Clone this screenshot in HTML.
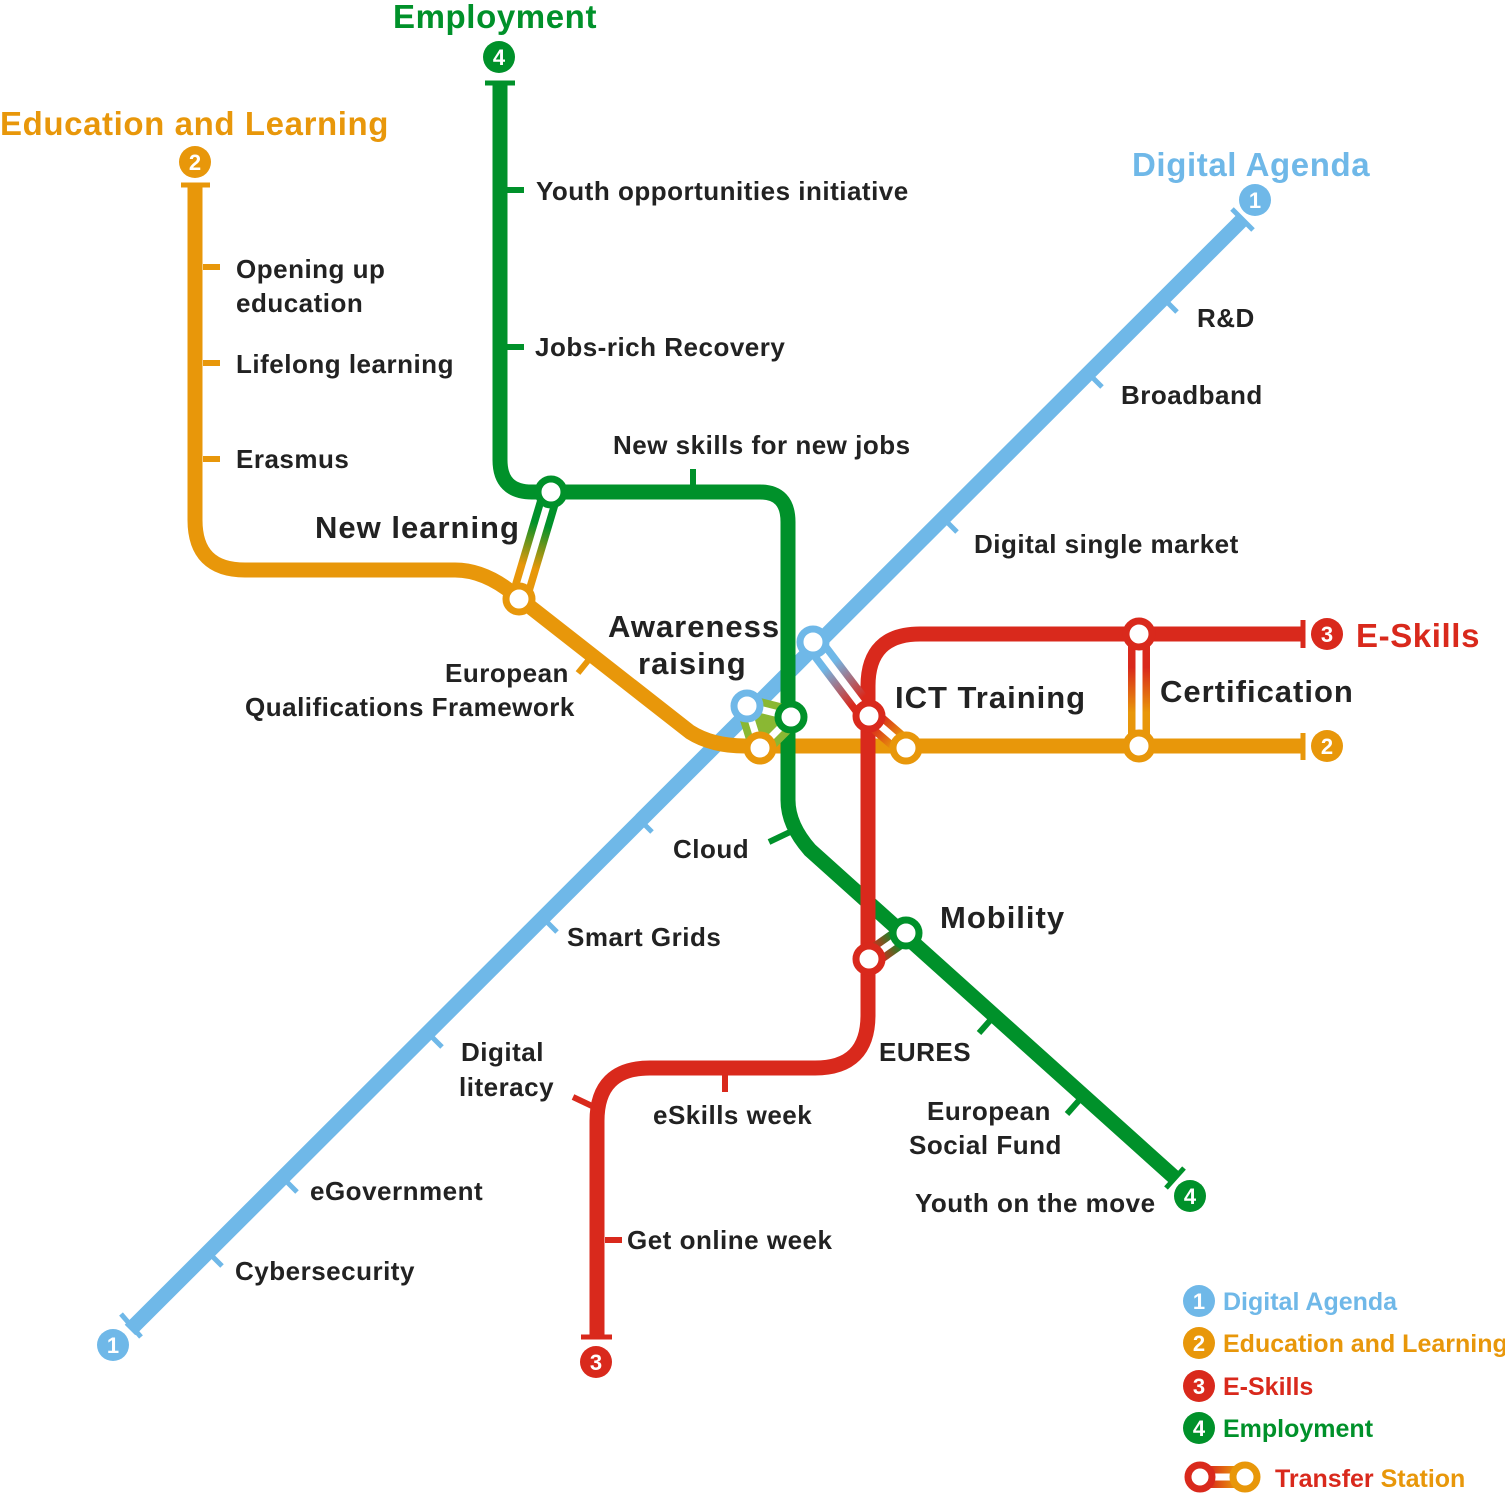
<!DOCTYPE html>
<html><head><meta charset="utf-8"><style>
html,body{margin:0;padding:0;background:#fff}
svg{display:block}
text{font-family:"Liberation Sans",sans-serif;font-weight:bold}
</style></head><body>
<svg width="1505" height="1496" viewBox="0 0 1505 1496" xmlns="http://www.w3.org/2000/svg">
<defs>
<linearGradient id="gGO" gradientUnits="userSpaceOnUse" x1="551" y1="492" x2="519" y2="599"><stop offset="0.3" stop-color="#00912a"/><stop offset="0.7" stop-color="#e8970a"/></linearGradient>
<linearGradient id="gBR" gradientUnits="userSpaceOnUse" x1="813" y1="642" x2="869" y2="716"><stop offset="0.3" stop-color="#6fb8e8"/><stop offset="0.8" stop-color="#d9291c"/></linearGradient>
<linearGradient id="gRO" gradientUnits="userSpaceOnUse" x1="869" y1="716" x2="906" y2="748"><stop offset="0.2" stop-color="#d9291c"/><stop offset="0.8" stop-color="#e8970a"/></linearGradient>
<linearGradient id="gRO2" gradientUnits="userSpaceOnUse" x1="1139" y1="634" x2="1139" y2="746"><stop offset="0.3" stop-color="#d9291c"/><stop offset="0.7" stop-color="#e8970a"/></linearGradient>
<linearGradient id="gGR" gradientUnits="userSpaceOnUse" x1="906" y1="933" x2="869" y2="959"><stop offset="0.2" stop-color="#00912a"/><stop offset="0.8" stop-color="#d9291c"/></linearGradient>
<linearGradient id="gLeg" gradientUnits="userSpaceOnUse" x1="1200" y1="0" x2="1245" y2="0"><stop offset="0.2" stop-color="#d9291c"/><stop offset="0.8" stop-color="#e8970a"/></linearGradient>
</defs>
<g fill="none" stroke-linecap="butt" stroke-linejoin="round">
<g stroke="#6fb8e8">
<line x1="130" y1="1330" x2="1242" y2="220" stroke-width="15"/>
<line x1="121" y1="1314" x2="141" y2="1337" stroke-width="5"/>
<line x1="1232" y1="209" x2="1253" y2="230" stroke-width="5"/>
<g stroke-width="5">
<line x1="1162" y1="297" x2="1177" y2="312"/><line x1="1087" y1="372" x2="1102" y2="387"/>
<line x1="942" y1="517" x2="957" y2="532"/><line x1="637" y1="817" x2="652" y2="832"/>
<line x1="542" y1="917" x2="557" y2="932"/><line x1="427" y1="1032" x2="442" y2="1047"/>
<line x1="282" y1="1177" x2="297" y2="1192"/><line x1="207" y1="1251" x2="222" y2="1266"/>
</g></g>
<g stroke="#e8970a">
<path d="M195 185 V520 Q195 570 245 570 H455 Q485 570 515 595 L690 732 Q712 746 745 746 H1303" stroke-width="15"/>
<line x1="181" y1="185" x2="210" y2="185" stroke-width="5"/>
<line x1="1303" y1="733" x2="1303" y2="760" stroke-width="5"/>
<g stroke-width="6"><line x1="203" y1="267" x2="220" y2="267"/><line x1="203" y1="363" x2="220" y2="363"/><line x1="203" y1="459" x2="220" y2="459"/><line x1="591" y1="657" x2="578" y2="673"/></g>
</g>
<g stroke="#00912a">
<path d="M500 83 V460 Q500 492 532 492 H760 Q788 492 788 522 V800 Q788 825 810 850 L1175 1178" stroke-width="15"/>
<line x1="485" y1="83" x2="515" y2="83" stroke-width="5"/>
<line x1="1166" y1="1188" x2="1184" y2="1168" stroke-width="5"/>
<g stroke-width="6"><line x1="507" y1="190" x2="524" y2="190"/><line x1="507" y1="347" x2="524" y2="347"/><line x1="693" y1="469" x2="693" y2="486"/><line x1="790" y1="832" x2="769" y2="842"/><line x1="994" y1="1016" x2="979" y2="1033"/><line x1="1082" y1="1097" x2="1067" y2="1114"/></g>
</g>
<g stroke="#d9291c">
<path d="M1303 634 H920 Q868 634 868 686 V1015 Q868 1068 815 1068 H650 Q597 1068 597 1121 V1337" stroke-width="15"/>
<line x1="1303" y1="620" x2="1303" y2="648" stroke-width="5"/>
<line x1="581" y1="1337" x2="612" y2="1337" stroke-width="5"/>
<g stroke-width="6"><line x1="725" y1="1075" x2="725" y2="1092"/><line x1="605" y1="1240" x2="622" y2="1240"/><line x1="573" y1="1097" x2="592" y2="1106"/></g>
</g>
<line x1="551" y1="492" x2="519" y2="599" stroke="url(#gGO)" stroke-width="22"/>
<line x1="551" y1="492" x2="519" y2="599" stroke="#fff" stroke-width="7"/>
<line x1="813" y1="642" x2="869" y2="716" stroke="url(#gBR)" stroke-width="22"/>
<line x1="813" y1="642" x2="869" y2="716" stroke="#fff" stroke-width="7"/>
<line x1="869" y1="716" x2="906" y2="748" stroke="url(#gRO)" stroke-width="22"/>
<line x1="869" y1="716" x2="906" y2="748" stroke="#fff" stroke-width="7"/>
<line x1="1139" y1="634" x2="1139" y2="746" stroke="url(#gRO2)" stroke-width="22"/>
<line x1="1139" y1="634" x2="1139" y2="746" stroke="#fff" stroke-width="7"/>
<line x1="906" y1="933" x2="869" y2="959" stroke="url(#gGR)" stroke-width="22"/>
<line x1="906" y1="933" x2="869" y2="959" stroke="#fff" stroke-width="7"/>
<polygon points="747,706 791,717 760,748" fill="#8ab833" stroke="#8ab833" stroke-width="22" stroke-linejoin="round"/>
<polygon points="747,706 791,717 760,748" fill="none" stroke="#fff" stroke-width="7" stroke-linejoin="round"/>
</g>
<g fill="#fff" stroke-width="7">
<circle cx="551" cy="492" r="13" stroke="#00912a"/>
<circle cx="519" cy="599" r="13" stroke="#e8970a"/>
<circle cx="747" cy="706" r="13" stroke="#6fb8e8"/>
<circle cx="791" cy="717" r="13" stroke="#00912a"/>
<circle cx="760" cy="748" r="13" stroke="#e8970a"/>
<circle cx="813" cy="642" r="13" stroke="#6fb8e8"/>
<circle cx="869" cy="716" r="13" stroke="#d9291c"/>
<circle cx="906" cy="748" r="13" stroke="#e8970a"/>
<circle cx="1139" cy="634" r="13" stroke="#d9291c"/>
<circle cx="1139" cy="746" r="13" stroke="#e8970a"/>
<circle cx="906" cy="933" r="13" stroke="#00912a"/>
<circle cx="869" cy="959" r="13" stroke="#d9291c"/>
</g>
<g font-size="22" text-anchor="middle">
<circle cx="1255" cy="200" r="16" fill="#6fb8e8"/><text x="1255" y="208" fill="#fff">1</text>
<circle cx="113" cy="1345" r="16" fill="#6fb8e8"/><text x="113" y="1353" fill="#fff">1</text>
<circle cx="195" cy="162" r="16" fill="#e8970a"/><text x="195" y="170" fill="#fff">2</text>
<circle cx="1327" cy="746" r="16" fill="#e8970a"/><text x="1327" y="754" fill="#fff">2</text>
<circle cx="1327" cy="634" r="16" fill="#d9291c"/><text x="1327" y="642" fill="#fff">3</text>
<circle cx="596" cy="1362" r="16" fill="#d9291c"/><text x="596" y="1370" fill="#fff">3</text>
<circle cx="499" cy="57" r="16" fill="#00912a"/><text x="499" y="65" fill="#fff">4</text>
<circle cx="1190" cy="1196" r="16" fill="#00912a"/><text x="1190" y="1204" fill="#fff">4</text>
<circle cx="1199" cy="1301" r="16" fill="#6fb8e8"/><text x="1199" y="1309" fill="#fff">1</text>
<circle cx="1199" cy="1343" r="16" fill="#e8970a"/><text x="1199" y="1351" fill="#fff">2</text>
<circle cx="1199" cy="1386" r="16" fill="#d9291c"/><text x="1199" y="1394" fill="#fff">3</text>
<circle cx="1199" cy="1428" r="16" fill="#00912a"/><text x="1199" y="1436" fill="#fff">4</text>
</g>
<line x1="1200" y1="1477" x2="1245" y2="1477" stroke="url(#gLeg)" stroke-width="22"/>
<line x1="1200" y1="1477" x2="1245" y2="1477" stroke="#fff" stroke-width="7"/>
<circle cx="1200" cy="1477" r="12" fill="#fff" stroke="#d9291c" stroke-width="7"/>
<circle cx="1245" cy="1477" r="12" fill="#fff" stroke="#e8970a" stroke-width="7"/>
<g font-size="33" letter-spacing="0.6">
<text x="393" y="28" fill="#00912a">Employment</text>
<text x="0" y="135" fill="#e8970a">Education and Learning</text>
<text x="1132" y="176" fill="#6fb8e8">Digital Agenda</text>
<text x="1356" y="647" fill="#d9291c">E-Skills</text>
</g>
<g font-size="25">
<text x="1223" y="1310" fill="#6fb8e8">Digital Agenda</text>
<text x="1223" y="1352" fill="#e8970a">Education and Learning</text>
<text x="1223" y="1395" fill="#d9291c">E-Skills</text>
<text x="1223" y="1437" fill="#00912a">Employment</text>
<text x="1275" y="1487" fill="#d9291c">Transfer <tspan fill="#e8970a">Station</tspan></text>
</g>
<g font-size="31" fill="#222" letter-spacing="1">
<text x="315" y="538">New learning</text>
<text x="608" y="637">Awareness</text>
<text x="638" y="674">raising</text>
<text x="895" y="708">ICT Training</text>
<text x="1160" y="702">Certification</text>
<text x="940" y="928">Mobility</text>
</g>
<g font-size="26" fill="#222" letter-spacing="0.5">
<text x="536" y="200">Youth opportunities initiative</text>
<text x="535" y="356">Jobs-rich Recovery</text>
<text x="613" y="454">New skills for new jobs</text>
<text x="236" y="278">Opening up</text>
<text x="236" y="312">education</text>
<text x="236" y="373">Lifelong learning</text>
<text x="236" y="468">Erasmus</text>
<text x="445" y="682">European</text>
<text x="245" y="716">Qualifications Framework</text>
<text x="1197" y="327">R&amp;D</text>
<text x="1121" y="404">Broadband</text>
<text x="974" y="553">Digital single market</text>
<text x="673" y="858">Cloud</text>
<text x="567" y="946">Smart Grids</text>
<text x="461" y="1061">Digital</text>
<text x="459" y="1096">literacy</text>
<text x="310" y="1200">eGovernment</text>
<text x="235" y="1280">Cybersecurity</text>
<text x="879" y="1061">EURES</text>
<text x="653" y="1124">eSkills week</text>
<text x="927" y="1120">European</text>
<text x="909" y="1154">Social Fund</text>
<text x="915" y="1212">Youth on the move</text>
<text x="627" y="1249">Get online week</text>
</g>
</svg>
</body></html>
